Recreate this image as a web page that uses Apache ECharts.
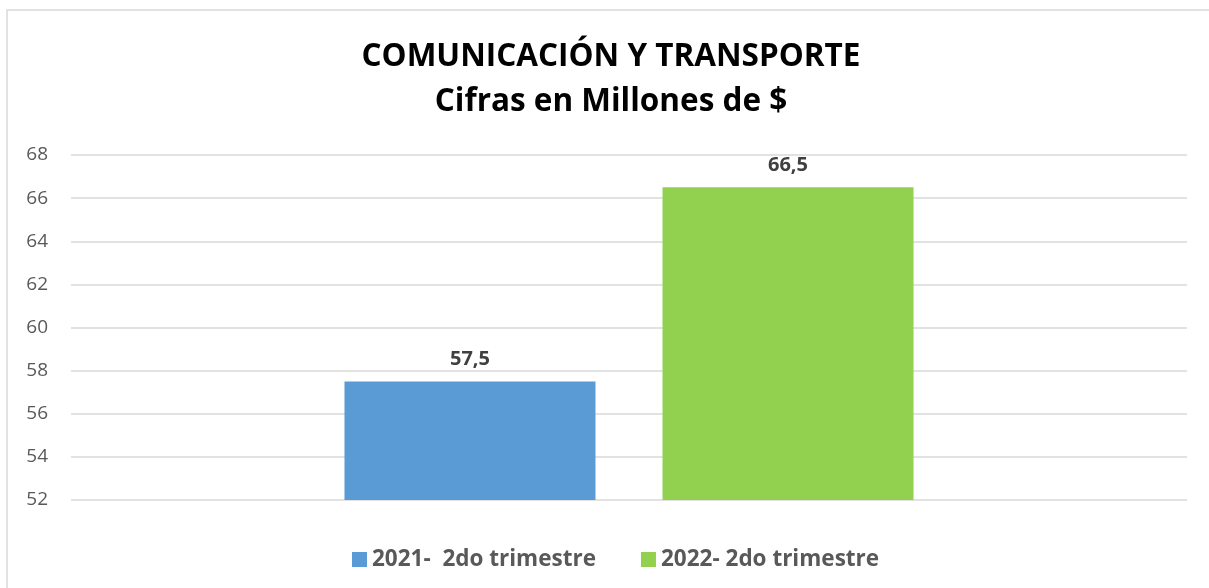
<!DOCTYPE html>
<html>
<head>
<meta charset="utf-8">
<script src="https://cdn.jsdelivr.net/npm/echarts@6/dist/echarts.min.js"></script>
<style>
  html, body { margin: 0; padding: 0; background: #fff; }
  #chart { width: 1209px; height: 588px; }
</style>
</head>
<body>
<div id="chart"></div>
<script>
// data
const seriesNames = ['2021-  2do trimestre', '2022- 2do trimestre']
const seriesValues = [57.5, 66.5]
const seriesColors = ['#5b9bd5', '#92d050']
const categories = ['']

const font = "'Open Sans', sans-serif"

const chart = echarts.init(document.getElementById('chart'))

chart.setOption({
  animation: false,
  textStyle: { fontFamily: font },
  title: {
    text: 'COMUNICACIÓN Y TRANSPORTE\nCifras en Millones de $',
    left: 606,
    textAlign: 'center',
    top: 30,
    textStyle: {
      fontFamily: font,
      fontSize: 31.5,
      fontWeight: 'bold',
      color: '#000',
      lineHeight: 45
    }
  },
  graphic: [
    {
      type: 'rect',
      shape: { x: 7, y: 10, width: 1230, height: 620 },
      style: { fill: 'none', stroke: '#d9d9d9', lineWidth: 1.5 },
      silent: true
    }
  ],
  legend: {
    top: 543,
    left: 347,
    itemWidth: 15,
    itemHeight: 15,
    itemGap: 45,
    icon: 'rect',
    textStyle: {
      fontFamily: font,
      fontSize: 22.5,
      fontWeight: 'bold',
      color: '#595959'
    },
    data: seriesNames
  },
  grid: {
    left: 71,
    right: 22,
    top: 155,
    bottom: 88
  },
  xAxis: {
    type: 'category',
    data: categories,
    axisLine: { show: false },
    axisTick: { show: false },
    axisLabel: { show: false }
  },
  yAxis: {
    type: 'value',
    min: 52,
    max: 68,
    interval: 2,
    axisLine: { show: false },
    axisTick: { show: false },
    axisLabel: {
      fontFamily: font,
      fontSize: 19,
      color: '#595959',
      margin: 23
    },
    splitLine: { lineStyle: { color: '#d9d9d9', width: 1.5 } }
  },
  series: seriesNames.map((name, i) => ({
    name: name,
    type: 'bar',
    data: [seriesValues[i]],
    barWidth: 251,
    barGap: '26.7%',
    itemStyle: { color: seriesColors[i] },
    label: {
      show: true,
      position: 'top',
      distance: 12,
      fontFamily: font,
      fontSize: 20,
      fontWeight: 'bold',
      color: '#404040',
      formatter: p => String(p.value).replace('.', ',')
    }
  }))
})
</script>
</body>
</html>
